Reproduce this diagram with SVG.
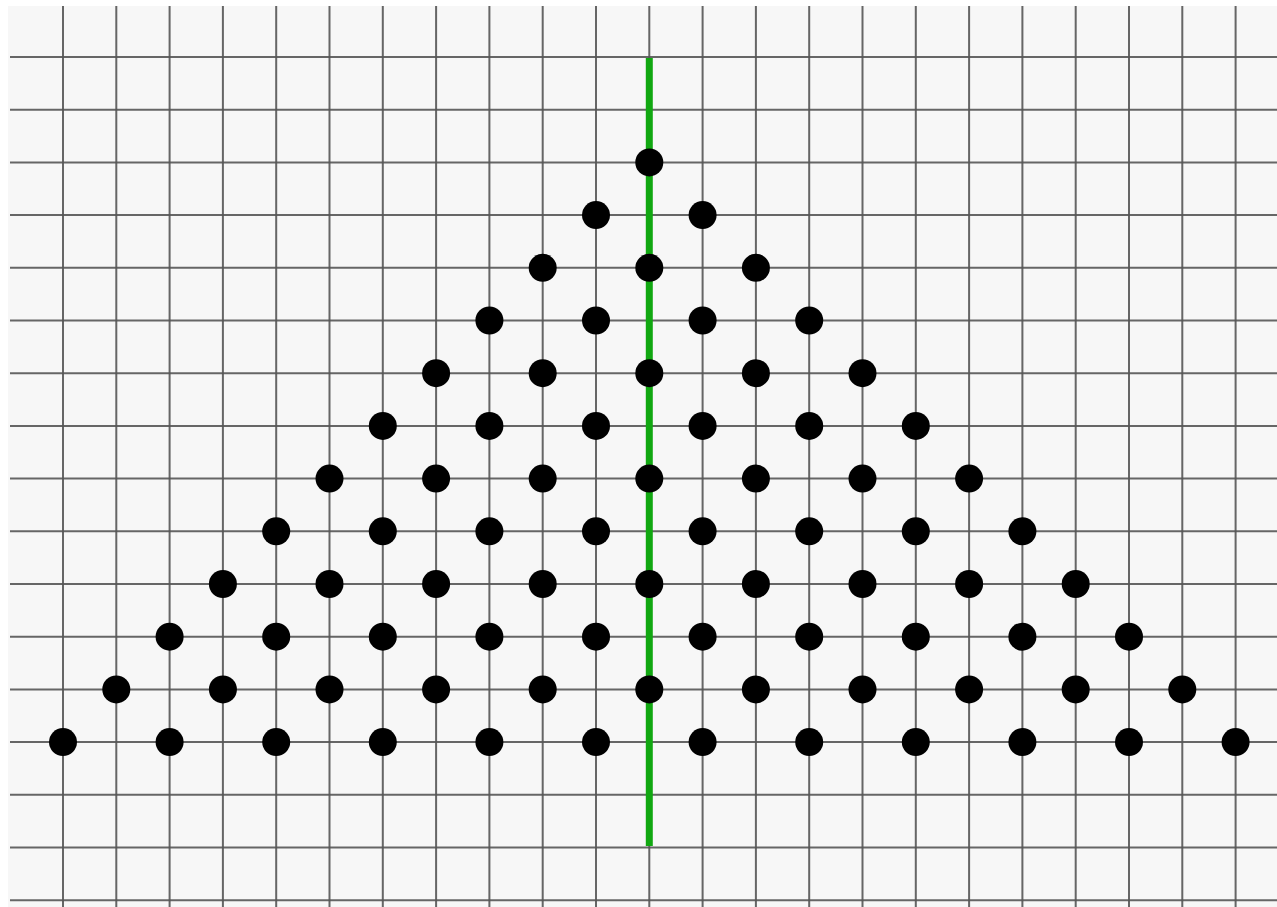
<svg xmlns="http://www.w3.org/2000/svg" width="1277" height="907" viewBox="0 0 1277 907">
<style>
.g{stroke:#555;stroke-width:2;stroke-opacity:0.9}
.d{fill:#000}
.axis{stroke:#11a811;stroke-width:7}
</style>
<defs><circle id="dot" r="14" class="d"/></defs>
<rect width="1277" height="907" fill="#fff"/>
<rect x="8" y="6" width="1269" height="901" fill="#f7f7f7"/>
<g id="grid">
<path class="g" d="M63 6V907M116.3 6V907M169.6 6V907M222.9 6V907M276.2 6V907M329.5 6V907M382.8 6V907M436.1 6V907M489.4 6V907M542.7 6V907M596 6V907M649.3 6V907M702.6 6V907M755.9 6V907M809.2 6V907M862.5 6V907M915.8 6V907M969.1 6V907M1022.4 6V907M1075.7 6V907M1129 6V907M1182.3 6V907M1235.6 6V907"/>
<path class="g" d="M10 57H1277M10 109.7H1277M10 162.4H1277M10 215.1H1277M10 267.8H1277M10 320.5H1277M10 373.2H1277M10 425.9H1277M10 478.6H1277M10 531.3H1277M10 584H1277M10 636.7H1277M10 689.4H1277M10 742.1H1277M10 794.8H1277M10 847.5H1277M10 900.2H1277"/>
</g>
<g id="connectors">
<line class="axis" x1="649.3" y1="58" x2="649.3" y2="846"/>
</g>
<g id="row1"><use href="#dot" x="649.3" y="162.4"/></g>
<g id="row2"><use href="#dot" x="596" y="215.1"/><use href="#dot" x="702.6" y="215.1"/></g>
<g id="row3"><use href="#dot" x="542.7" y="267.8"/><use href="#dot" x="649.3" y="267.8"/><use href="#dot" x="755.9" y="267.8"/></g>
<g id="row4"><use href="#dot" x="489.4" y="320.5"/><use href="#dot" x="596" y="320.5"/><use href="#dot" x="702.6" y="320.5"/><use href="#dot" x="809.2" y="320.5"/></g>
<g id="row5"><use href="#dot" x="436.1" y="373.2"/><use href="#dot" x="542.7" y="373.2"/><use href="#dot" x="649.3" y="373.2"/><use href="#dot" x="755.9" y="373.2"/><use href="#dot" x="862.5" y="373.2"/></g>
<g id="row6"><use href="#dot" x="382.8" y="425.9"/><use href="#dot" x="489.4" y="425.9"/><use href="#dot" x="596" y="425.9"/><use href="#dot" x="702.6" y="425.9"/><use href="#dot" x="809.2" y="425.9"/><use href="#dot" x="915.8" y="425.9"/></g>
<g id="row7"><use href="#dot" x="329.5" y="478.6"/><use href="#dot" x="436.1" y="478.6"/><use href="#dot" x="542.7" y="478.6"/><use href="#dot" x="649.3" y="478.6"/><use href="#dot" x="755.9" y="478.6"/><use href="#dot" x="862.5" y="478.6"/><use href="#dot" x="969.1" y="478.6"/></g>
<g id="row8"><use href="#dot" x="276.2" y="531.3"/><use href="#dot" x="382.8" y="531.3"/><use href="#dot" x="489.4" y="531.3"/><use href="#dot" x="596" y="531.3"/><use href="#dot" x="702.6" y="531.3"/><use href="#dot" x="809.2" y="531.3"/><use href="#dot" x="915.8" y="531.3"/><use href="#dot" x="1022.4" y="531.3"/></g>
<g id="row9"><use href="#dot" x="222.9" y="584"/><use href="#dot" x="329.5" y="584"/><use href="#dot" x="436.1" y="584"/><use href="#dot" x="542.7" y="584"/><use href="#dot" x="649.3" y="584"/><use href="#dot" x="755.9" y="584"/><use href="#dot" x="862.5" y="584"/><use href="#dot" x="969.1" y="584"/><use href="#dot" x="1075.7" y="584"/></g>
<g id="row10"><use href="#dot" x="169.6" y="636.7"/><use href="#dot" x="276.2" y="636.7"/><use href="#dot" x="382.8" y="636.7"/><use href="#dot" x="489.4" y="636.7"/><use href="#dot" x="596" y="636.7"/><use href="#dot" x="702.6" y="636.7"/><use href="#dot" x="809.2" y="636.7"/><use href="#dot" x="915.8" y="636.7"/><use href="#dot" x="1022.4" y="636.7"/><use href="#dot" x="1129" y="636.7"/></g>
<g id="row11"><use href="#dot" x="116.3" y="689.4"/><use href="#dot" x="222.9" y="689.4"/><use href="#dot" x="329.5" y="689.4"/><use href="#dot" x="436.1" y="689.4"/><use href="#dot" x="542.7" y="689.4"/><use href="#dot" x="649.3" y="689.4"/><use href="#dot" x="755.9" y="689.4"/><use href="#dot" x="862.5" y="689.4"/><use href="#dot" x="969.1" y="689.4"/><use href="#dot" x="1075.7" y="689.4"/><use href="#dot" x="1182.3" y="689.4"/></g>
<g id="row12"><use href="#dot" x="63" y="742.1"/><use href="#dot" x="169.6" y="742.1"/><use href="#dot" x="276.2" y="742.1"/><use href="#dot" x="382.8" y="742.1"/><use href="#dot" x="489.4" y="742.1"/><use href="#dot" x="596" y="742.1"/><use href="#dot" x="702.6" y="742.1"/><use href="#dot" x="809.2" y="742.1"/><use href="#dot" x="915.8" y="742.1"/><use href="#dot" x="1022.4" y="742.1"/><use href="#dot" x="1129" y="742.1"/><use href="#dot" x="1235.6" y="742.1"/></g>
</svg>
